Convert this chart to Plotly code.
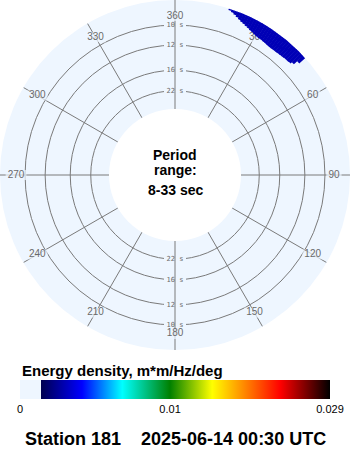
import numpy as np
import plotly.graph_objects as go

# ---------------- data ----------------
period_ticks = [10, 12, 16, 22]                 # seconds (radial grid)
period_tick_labels = ["10 s", "12 s", "16 s", "22 s"]
period_min, period_max = 8, 33                 # period range shown (s)
direction_ticks = [0, 30, 60, 90, 120, 150, 180, 210, 240, 270, 300, 330]
direction_labels = ["360", "30", "60", "90", "120", "150", "180", "210",
                    "240", "270", "300", "330"]

# directional spectrum: energy patch (direction bin centre, inner period edge, energy)
blob_directions = [18.5, 19.5, 20.5, 21.5, 22.5, 23.5, 24.5, 25.5, 26.5, 27.5,
                   28.5, 29.5, 30.5, 31.5, 32.5, 33.5, 34.5, 35.5, 36.5, 37.5,
                   38.5, 39.5, 40.5, 41.5, 42.5, 43.5, 44.5, 45.5, 46.5, 47.5]
blob_inner_period = [8.37, 8.44, 8.52, 8.60, 8.68, 8.77, 8.83, 8.89, 8.95, 9.02,
                     9.07, 9.13, 9.18, 9.20, 9.22, 9.24, 9.26, 9.28, 9.30, 9.30,
                     9.30, 9.30, 9.28, 9.26, 9.25, 9.23, 9.22, 9.19, 9.06, 8.76]
blob_energy = [0.003] * 30

cbar_tick_values = [0, 0.01, 0.029]
cbar_tick_labels = ["0", "0.01", "0.029"]
cbar_knots = [0, 0.01, 0.029]          # energy knots of the palette
cbar_positions = [0, 0.484, 1]         # their positions along the palette

cbar_title = "Energy density, m*m/Hz/deg"
title_text = "Station 181\u00a0\u00a0\u00a0\u00a02025-06-14 00:30 UTC"

# ---------------- styles ----------------
LB = "#EEF6FF"
GRID = "#7a7a7a"
LABEL = "#6a6a6a"
W, H = 350, 450

colorscale = [[0, LB], [0.068, LB], [0.068, "#000050"], [0.2, "#0000FF"],
              [0.33, "#00FFFF"], [0.484, "#008000"], [0.62, "#FFFF00"],
              [0.72, "#FF8C00"], [0.84, "#FF0000"], [1, "#000000"]]


def pal(e):
    return np.interp(e, cbar_knots, cbar_positions)


f_in = 1.0 / period_max
f_out = 0.1208                          # displayed outer frequency limit
f_ticks = [1.0 / p for p in period_ticks]
f_lab = f_in + 0.853 * (f_out - f_in)   # ring where direction labels sit

fig = go.Figure()

# masks under the period labels (hide the circles)
for th in (0, 180):
    fig.add_trace(go.Scatterpolar(
        r=f_ticks, theta=[th] * len(f_ticks), mode="markers",
        marker=dict(symbol="line-ew", size=22 / 1.4, color=LB,
                    line=dict(width=8, color=LB)),
        hoverinfo="skip", subplot="polar"))

# direction spokes
sp_r, sp_t = [], []
for d in direction_ticks:
    sp_r += [f_in, f_out, None]
    sp_t += [d, d, None]
fig.add_trace(go.Scatterpolar(r=sp_r, theta=sp_t, mode="lines",
                              line=dict(color=GRID, width=1),
                              hoverinfo="skip", subplot="polar"))

# masks under the direction labels
fig.add_trace(go.Scatterpolar(
    r=[f_lab] * len(direction_ticks), theta=direction_ticks, mode="markers",
    marker=dict(symbol="line-ew",
                size=[(5.6 * len(s) + 4) / 1.4 for s in direction_labels],
                color=LB, line=dict(width=10, color=LB)),
    hoverinfo="skip", subplot="polar"))

# period labels
for th in (0, 180):
    fig.add_trace(go.Scatterpolar(
        r=f_ticks, theta=[th] * len(f_ticks), mode="text",
        text=period_tick_labels,
        textfont=dict(family="DejaVu Sans Mono", size=7, color=LABEL),
        hoverinfo="skip", subplot="polar"))

# direction labels
fig.add_trace(go.Scatterpolar(
    r=[f_lab] * len(direction_ticks), theta=direction_ticks, mode="text",
    text=direction_labels,
    textfont=dict(family="Liberation Sans", size=10, color=LABEL),
    hoverinfo="skip", subplot="polar"))

# spectrum patch (on an overlaid polar so it is drawn above the labels)
base = [1.0 / p for p in blob_inner_period]
fig.add_trace(go.Barpolar(
    theta=blob_directions, base=base,
    r=[1.0 / period_min - b for b in base],
    width=[1.15] * len(blob_directions),
    marker=dict(color=pal(blob_energy), colorscale=colorscale, cmin=0, cmax=1,
                line=dict(width=0),
                colorbar=dict(orientation="h", x=0.5, xanchor="center",
                              len=310 / W, lenmode="fraction", thickness=19,
                              y=(H - 380) / H, yanchor="top", ypad=0, xpad=0,
                              outlinewidth=0,
                              tickvals=pal(cbar_tick_values).tolist(),
                              ticktext=cbar_tick_labels, ticks="",
                              tickfont=dict(family="Liberation Sans", size=11,
                                            color="black"))),
    hoverinfo="skip", subplot="polar2"))

dom = dict(x=[0, 1], y=[(H - 350) / H, 1])
hole = 66 / 175
fig.update_layout(
    width=W, height=H, margin=dict(l=0, r=0, t=0, b=0),
    paper_bgcolor="white", plot_bgcolor="white", showlegend=False,
    polar=dict(domain=dom, hole=hole, bgcolor=LB,
               radialaxis=dict(range=[f_in, f_out], tickvals=f_ticks,
                               showticklabels=False, ticks="", showline=False,
                               gridcolor=GRID, gridwidth=1),
               angularaxis=dict(rotation=90, direction="clockwise",
                                showgrid=False, showticklabels=False,
                                showline=False, ticks="")),
    polar2=dict(domain=dom, hole=hole, bgcolor="rgba(0,0,0,0)",
                radialaxis=dict(range=[f_in, f_out], visible=False),
                angularaxis=dict(rotation=90, direction="clockwise",
                                 visible=False)),
    annotations=[
        dict(text="<b>Period</b>", x=0.5, y=(H - 155) / H, xref="paper",
             yref="paper", showarrow=False, yanchor="middle",
             font=dict(family="Liberation Sans", size=14, color="black")),
        dict(text="<b>range:</b>", x=0.5, y=(H - 170) / H, xref="paper",
             yref="paper", showarrow=False, yanchor="middle",
             font=dict(family="Liberation Sans", size=14, color="black")),
        dict(text="<b>8-33 sec</b>", x=0.5, y=(H - 190) / H, xref="paper",
             yref="paper", showarrow=False, yanchor="middle",
             font=dict(family="Liberation Sans", size=14, color="black")),
        dict(text="<b>" + cbar_title + "</b>", x=20 / W, y=(H - 370) / H,
             xref="paper", yref="paper", showarrow=False, xanchor="left",
             yanchor="middle",
             font=dict(family="Liberation Sans", size=15, color="black")),
        dict(text="<b>" + title_text + "</b>", x=0.5, y=(H - 439) / H,
             xref="paper", yref="paper", showarrow=False, yanchor="middle",
             font=dict(family="Liberation Sans", size=18, color="black")),
    ],
)

fig.write_html("out.html")
